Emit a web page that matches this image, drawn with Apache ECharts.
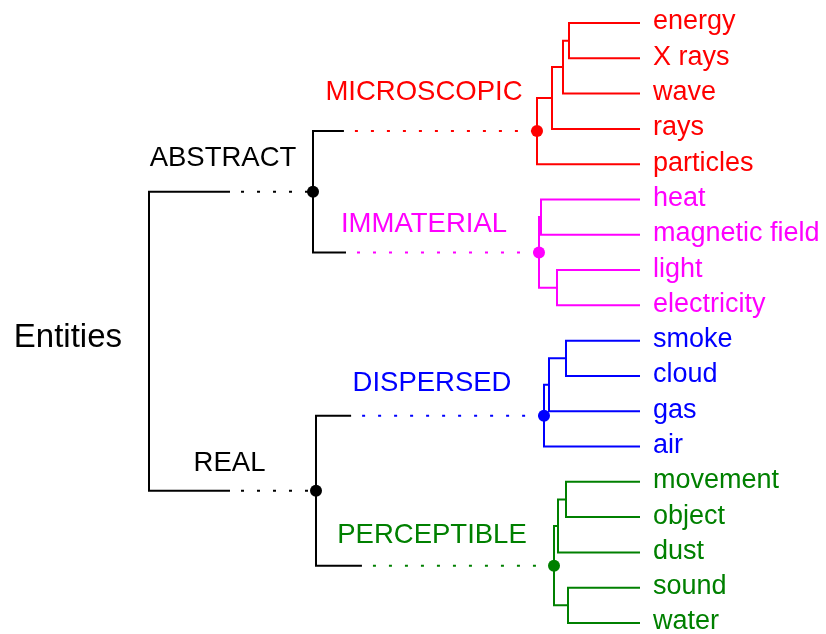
<!DOCTYPE html>
<html><head><meta charset="utf-8">
<script src="https://cdn.jsdelivr.net/npm/echarts@6/dist/echarts.min.js"></script>
<style>html,body{margin:0;padding:0;background:#fff}#c{width:826px;height:634px}</style>
</head><body><div id="c"></div>
<script>
// ---- data ----
const leafNames = ['energy','X rays','wave','rays','particles','heat','magnetic field','light','electricity','smoke','cloud','gas','air','movement','object','dust','sound','water'];
const mergeNames  = ['n1','n2','n3','MICROSCOPIC','n5','n6','IMMATERIAL','n8','n9','DISPERSED','n11','n12','n13','PERCEPTIBLE','ABSTRACT','REAL','Entities'];
const mergeFirst  = ['energy','n1','n2','n3','heat','light','n5','smoke','n8','n9','movement','n11','sound','n12','MICROSCOPIC','DISPERSED','ABSTRACT'];
const mergeSecond = ['X rays','wave','rays','particles','magnetic field','electricity','n6','cloud','gas','air','object','dust','water','n13','IMMATERIAL','PERCEPTIBLE','REAL'];
const mergeHeights = [71,77,88,103,99,83,101,74,91,96,74,82,72,86,327,324,491];
const groupNames  = ['MICROSCOPIC','IMMATERIAL','DISPERSED','PERCEPTIBLE'];
const groupColors = ['#ff0000','#ff00ff','#0000ff','#008000'];
const upperNames  = ['ABSTRACT','REAL'];
const rootName = 'Entities';

// ---- style ----
const FONT = "'Liberation Sans', Arial, Helvetica, sans-serif";
const solidFraction = {ABSTRACT:0.494, REAL:0.485, MICROSCOPIC:0.138, IMMATERIAL:0.146, DISPERSED:0.154, PERCEPTIBLE:0.193};
const labelShift = {ABSTRACT:[-8,-33], REAL:[-3,-27], MICROSCOPIC:[-1,-39], IMMATERIAL:[-2,-28], DISPERSED:[2,-32], PERCEPTIBLE:[-3,-30]};

// ---- build ----
const pos = {}, parentOf = {};
leafNames.forEach((n,i)=>{ pos[n] = {h:0, y:i}; });
mergeNames.forEach((n,i)=>{
  const a = pos[mergeFirst[i]], b = pos[mergeSecond[i]];
  pos[n] = {h: mergeHeights[i], y: (a.y + b.y)/2, kids: [mergeFirst[i], mergeSecond[i]]};
  parentOf[mergeFirst[i]] = n; parentOf[mergeSecond[i]] = n;
});
const colorOf = {};
function paint(n, c){ colorOf[n] = c; const p = pos[n]; if (p.kids) p.kids.forEach(k=>paint(k,c)); }
paint(rootName, '#000000');
groupNames.forEach((g,i)=>paint(g, groupColors[i]));

const lineData = [];
mergeNames.forEach(n=>{
  const p = pos[n];
  const ends = p.kids.map(k=>{
    const c = pos[k];
    if (k in solidFraction) {
      const br = p.h - (p.h - c.h) * solidFraction[k];
      lineData.push({coords: [[br, c.y], [c.h, c.y]],
        lineStyle: {color: colorOf[k], width: 2, type: [3, 13], dashOffset: 5, opacity: 1}});
      return br;
    }
    return c.h;
  });
  const A = pos[p.kids[0]], B = pos[p.kids[1]];
  lineData.push({coords: [[ends[0], A.y], [p.h, A.y], [p.h, B.y], [ends[1], B.y]],
    lineStyle: {color: colorOf[n], width: 2, type: 'solid', opacity: 1}});
});

const dotNames = upperNames.concat(groupNames);
const dotData = dotNames.map(n=>({value: [pos[n].h, pos[n].y], itemStyle: {color: colorOf[n], opacity: 1}}));

const leafLabelData = leafNames.map(n=>({value: [pos[n].h, pos[n].y], name: n,
  label: {color: colorOf[n]}}));

const innerLabelData = dotNames.map(n=>{
  const par = pos[parentOf[n]], c = pos[n];
  return {value: [(par.h + c.h)/2, c.y], name: n,
    label: {color: colorOf[n], offset: labelShift[n]}};
});

const chart = echarts.init(document.getElementById('c'), null, {renderer: 'canvas'});
chart.setOption({
  animation: false,
  backgroundColor: '#ffffff',
  grid: {left: 149, right: 186, top: 23, bottom: 11, containLabel: false},
  xAxis: {type: 'value', inverse: true, min: 0, max: pos[rootName].h, show: false},
  yAxis: {type: 'value', inverse: true, min: 0, max: leafNames.length - 1, show: false},
  series: [
    {type: 'lines', coordinateSystem: 'cartesian2d', polyline: true, silent: true,
     lineStyle: {width: 2, opacity: 1, join: 'miter', cap: 'butt'}, data: lineData, z: 2},
    {type: 'scatter', symbol: 'circle', symbolSize: 12, data: dotData, silent: true, z: 5,
     itemStyle: {opacity: 1}},
    {type: 'scatter', symbolSize: 0, data: leafLabelData, silent: true, z: 6,
     itemStyle: {opacity: 1},
     label: {show: true, position: 'right', distance: 13, offset: [0, -1], formatter: '{b}',
       fontFamily: FONT, fontSize: 27, opacity: 1}},
    {type: 'scatter', symbolSize: 0, data: innerLabelData, silent: true, z: 6,
     itemStyle: {opacity: 1},
     label: {show: true, position: 'inside', formatter: '{b}', fontFamily: FONT, fontSize: 27.5, opacity: 1}},
    {type: 'scatter', symbolSize: 0, silent: true, z: 6, itemStyle: {opacity: 1},
     data: [{value: [pos[rootName].h, pos[rootName].y], name: rootName}],
     label: {show: true, position: 'left', distance: 27, offset: [0, -3], formatter: '{b}',
       color: '#000000', fontFamily: FONT, fontSize: 33, opacity: 1}}
  ]
});
</script></body></html>
